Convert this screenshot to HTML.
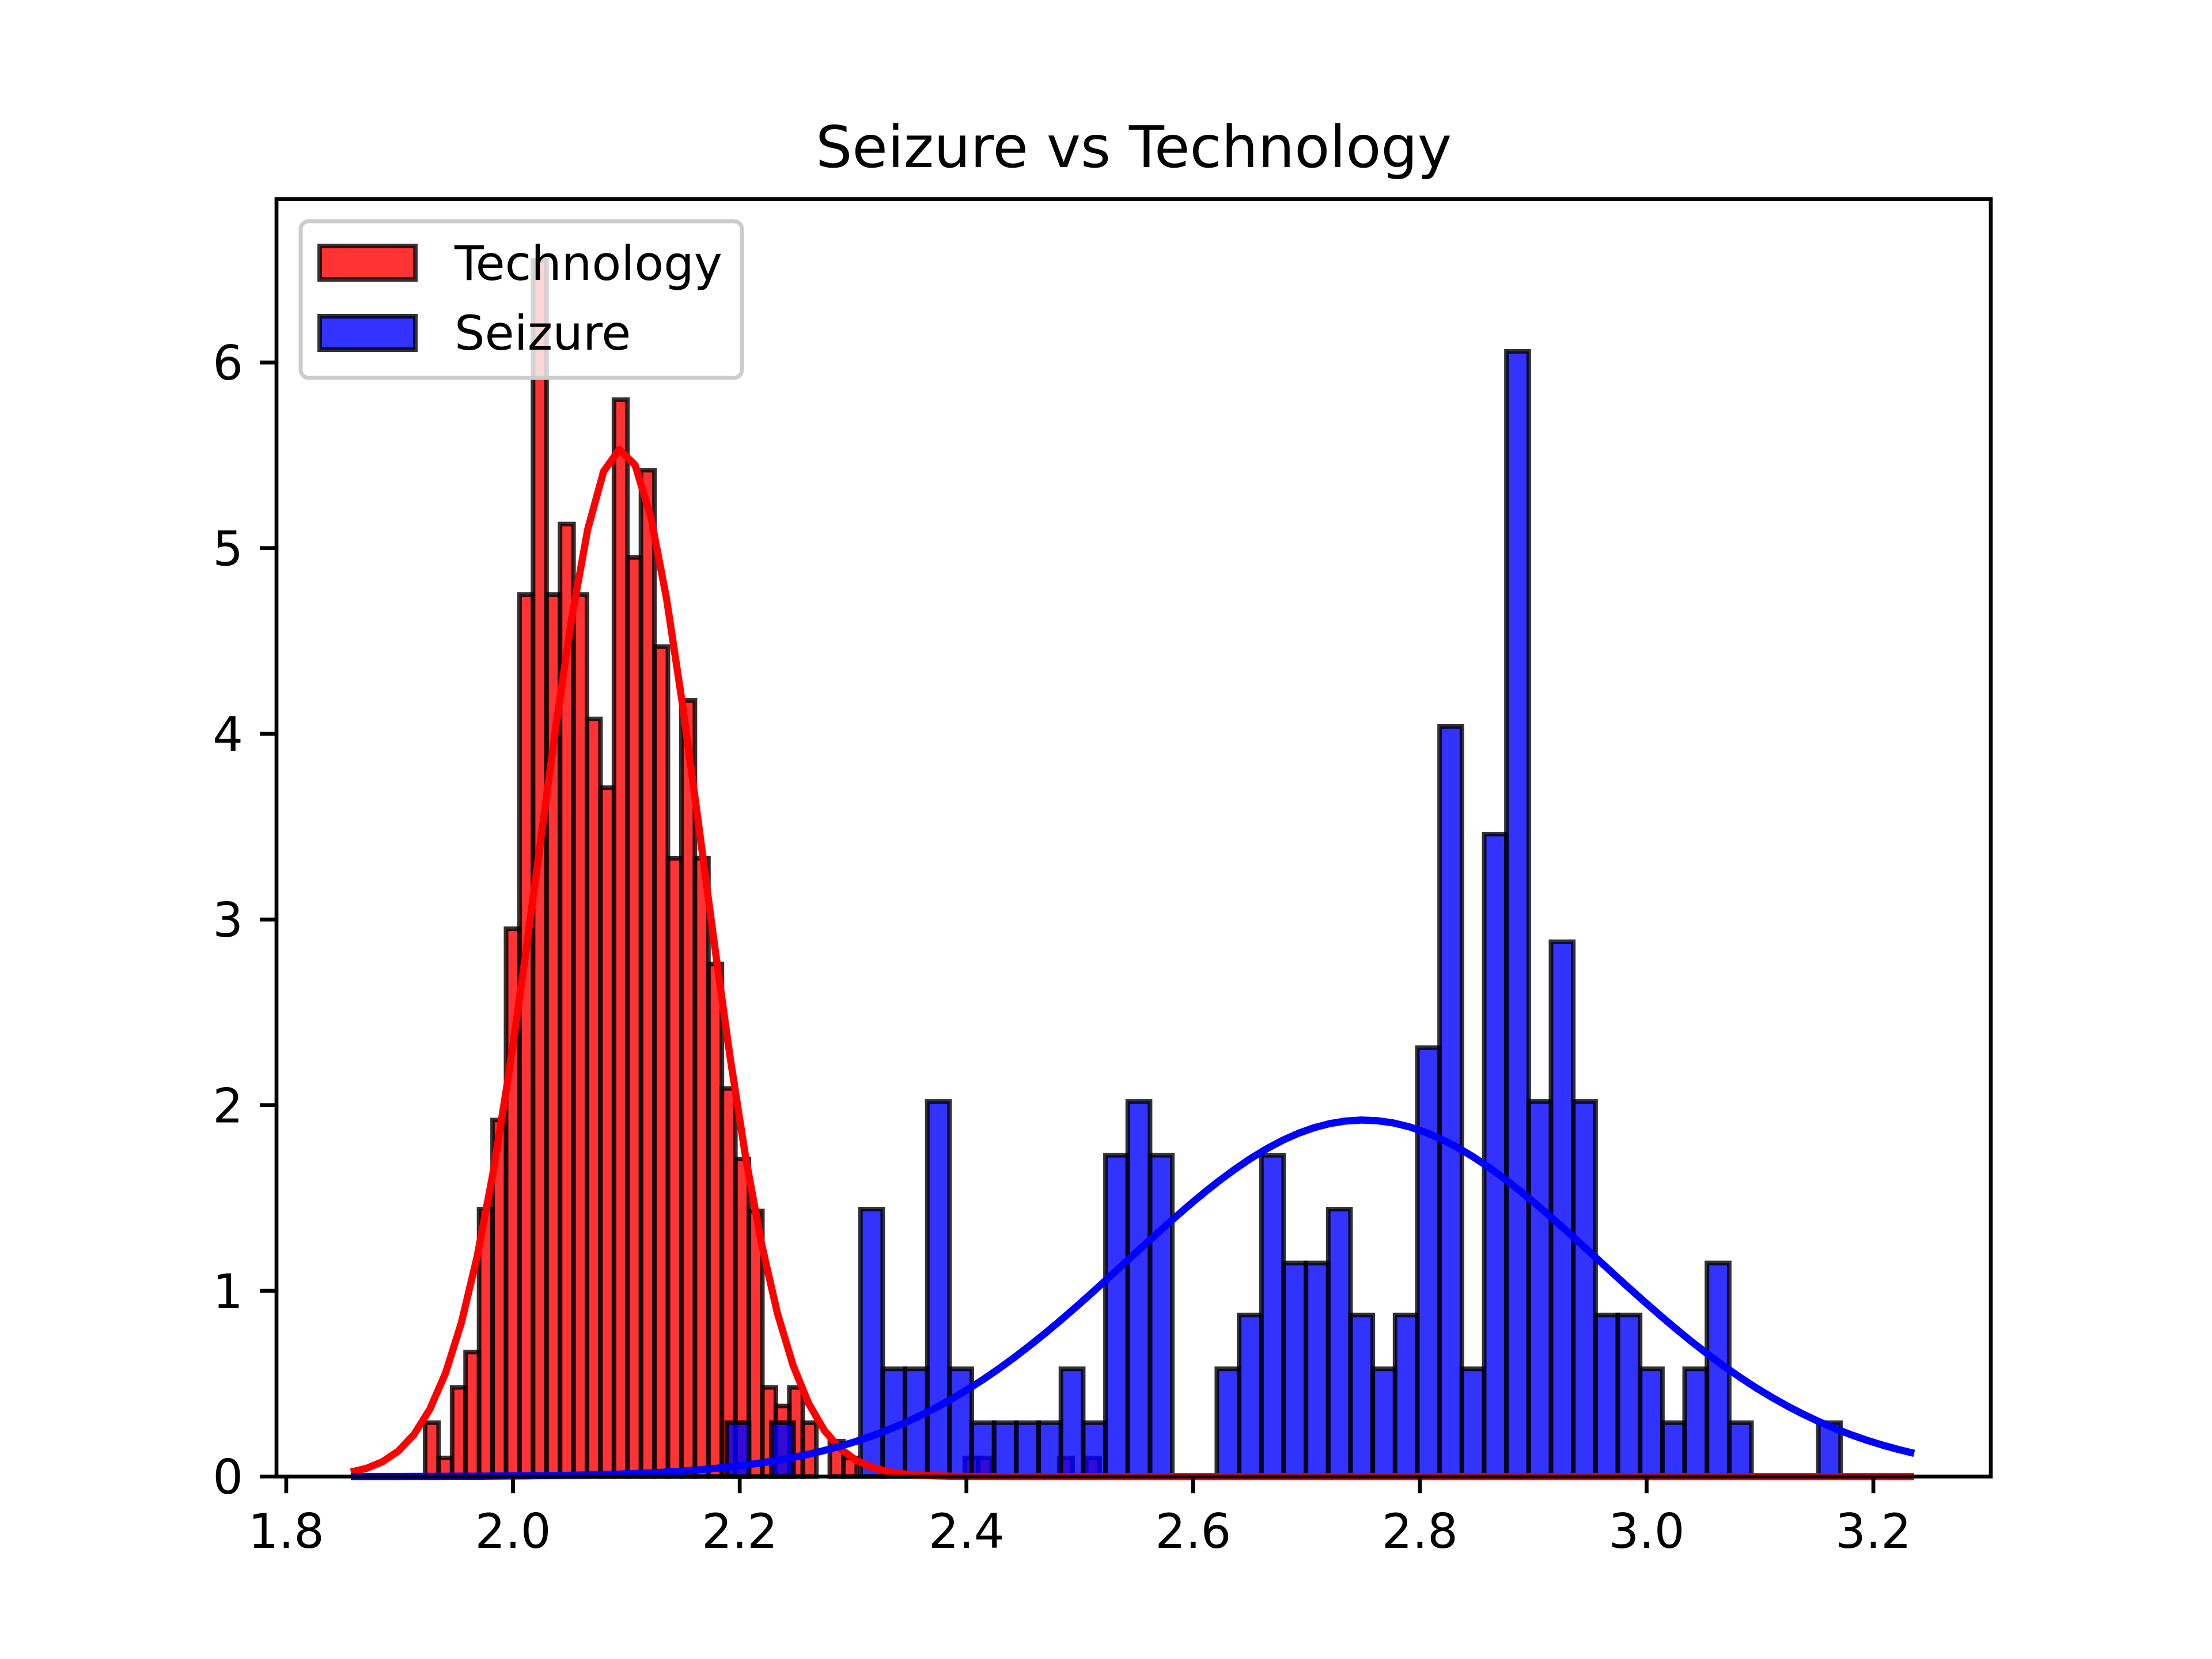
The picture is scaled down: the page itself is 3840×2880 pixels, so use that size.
<!DOCTYPE html>
<html><head><meta charset="utf-8"><style>
html,body{margin:0;padding:0;background:#fff;}
svg{display:block;font-family:"DejaVu Sans","Liberation Sans",sans-serif;}
</style></head><body>
<svg id="chart" width="3840" height="2880" viewBox="0 0 3840 2880" xmlns="http://www.w3.org/2000/svg">
<rect x="0" y="0" width="3840" height="2880" fill="#fff"/>
<g id="bars"></g>
<g id="curves"></g>
<g id="axes"></g>
<text x="1968" y="290" font-size="100" text-anchor="middle">Seizure vs Technology</text>
<g>
<rect x="522" y="384" width="766" height="272" rx="14" fill="#fff" fill-opacity="0.8" stroke="#ccc" stroke-width="7"/>
<rect x="555" y="427" width="166" height="58" fill="rgba(255,0,0,0.8)" stroke="rgba(0,0,0,0.8)" stroke-width="8"/>
<text x="789" y="486" font-size="83">Technology</text>
<rect x="555" y="549" width="166" height="58" fill="rgba(0,0,255,0.8)" stroke="rgba(0,0,0,0.8)" stroke-width="8"/>
<text x="789" y="607" font-size="83">Seizure</text>
</g>
</svg>
<script>
const techStart = 1.9225;
const techWidth = 0.0119;
const techHeights = [0.29,0.10,0.48,0.67,1.44,1.92,2.95,4.75,6.55,4.75,5.13,4.75,4.08,3.71,5.80,4.95,5.42,4.47,3.33,4.18,3.33,2.76,2.09,1.71,1.43,0.48,0.38,0.48,0.29,0,0.19,0.10,0,0,0,0,0,0,0,0,0.10,0.10,0,0,0,0,0,0.10,0,0.10];
const seizStart = 2.1886;
const seizWidth = 0.01965;
const seizHeights = [0.29,0,0.29,0,0,0,1.44,0.58,0.58,2.02,0.58,0.29,0.29,0.29,0.29,0.58,0.29,1.73,2.02,1.73,0,0,0.58,0.87,1.73,1.15,1.15,1.44,0.87,0.58,0.87,2.31,4.04,0.58,3.46,6.06,2.02,2.88,2.02,0.87,0.87,0.58,0.29,0.58,1.15,0.29,0,0,0,0.29];
const techFit = [2.095, 0.0721];
const seizFit = [2.75, 0.2078];
const curveRange = [1.857, 3.236];
const xTicks = [1.8,2.0,2.2,2.4,2.6,2.8,3.0,3.2];
const xTickLabels = ["1.8","2.0","2.2","2.4","2.6","2.8","3.0","3.2"];
const yTicks = [0,1,2,3,4,5,6];
const yTickLabels = ["0","1","2","3","4","5","6"];

const L=480,R=3456,T=345.6,B=2563.2;
const xMin=1.7914,xMax=3.3036,yMin=0,yMax=6.88;
function sx(v){return L+(v-xMin)/(xMax-xMin)*(R-L);}
function sy(v){return B-(v-yMin)/(yMax-yMin)*(B-T);}
const NS="http://www.w3.org/2000/svg";
const bars=document.getElementById('bars');
function drawHist(start,w,hs,fill,name){
  hs.forEach((h,i)=>{
    if(h<=0) return;
    const r=document.createElementNS(NS,'rect');
    const x0=sx(start+i*w),x1=sx(start+(i+1)*w);
    r.setAttribute('x',x0);r.setAttribute('width',x1-x0);
    r.setAttribute('y',sy(h));r.setAttribute('height',sy(0)-sy(h));
    r.setAttribute('fill',fill);r.setAttribute('stroke','rgba(0,0,0,0.8)');r.setAttribute('stroke-width','8');
    
    
    bars.appendChild(r);
  });
}
drawHist(techStart,techWidth,techHeights,'rgba(255,0,0,0.8)','technology');
drawHist(seizStart,seizWidth,seizHeights,'rgba(0,0,255,0.8)','seizure');
const curves=document.getElementById('curves');
function drawFit(p,color,name){
  const n=100;let d='';
  for(let i=0;i<n;i++){
    const x=curveRange[0]+(curveRange[1]-curveRange[0])*i/(n-1);
    const y=Math.exp(-0.5*Math.pow((x-p[0])/p[1],2))/(p[1]*Math.sqrt(2*Math.PI));
    d+=(i?'L':'M')+sx(x).toFixed(1)+','+sy(y).toFixed(1);
  }
  const pa=document.createElementNS(NS,'path');
  pa.setAttribute('d',d);pa.setAttribute('fill','none');pa.setAttribute('stroke',color);
  pa.setAttribute('stroke-width','12.5');pa.setAttribute('stroke-linejoin','round');
  
  
  curves.appendChild(pa);
}
drawFit(techFit,'#ff0000','technology');
drawFit(seizFit,'#0000ff','seizure');
const axes=document.getElementById('axes');
const frame=document.createElementNS(NS,'rect');
frame.setAttribute('x',L);frame.setAttribute('y',T);frame.setAttribute('width',R-L);frame.setAttribute('height',B-T);
frame.setAttribute('fill','none');frame.setAttribute('stroke','#000');frame.setAttribute('stroke-width','6.7');


axes.appendChild(frame);
xTicks.forEach((v,i)=>{
  const l=document.createElementNS(NS,'line');
  l.setAttribute('x1',sx(v));l.setAttribute('x2',sx(v));l.setAttribute('y1',B);l.setAttribute('y2',B+29);
  l.setAttribute('stroke','#000');l.setAttribute('stroke-width','6.7');
  
  
  axes.appendChild(l);
  const t=document.createElementNS(NS,'text');
  t.setAttribute('x',sx(v));t.setAttribute('y',B+124);t.setAttribute('font-size','83');t.setAttribute('text-anchor','middle');
  t.textContent=xTickLabels[i];
  
  
  axes.appendChild(t);
});
yTicks.forEach((v,i)=>{
  const l=document.createElementNS(NS,'line');
  l.setAttribute('x1',L-29);l.setAttribute('x2',L);l.setAttribute('y1',sy(v));l.setAttribute('y2',sy(v));
  l.setAttribute('stroke','#000');l.setAttribute('stroke-width','6.7');
  
  
  axes.appendChild(l);
  const t=document.createElementNS(NS,'text');
  t.setAttribute('x',L-58);t.setAttribute('y',sy(v)+30);t.setAttribute('font-size','83');t.setAttribute('text-anchor','end');
  t.textContent=yTickLabels[i];
  
  
  axes.appendChild(t);
});
</script>
</body></html>
